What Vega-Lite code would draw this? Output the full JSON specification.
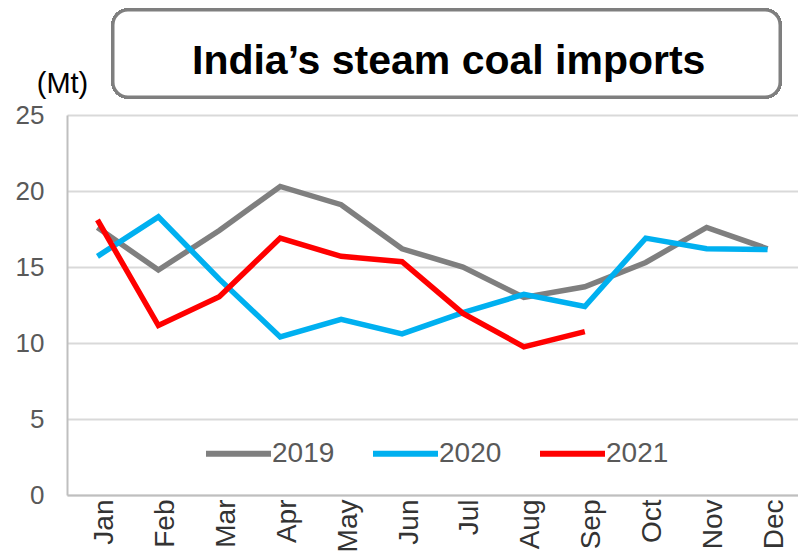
{
  "$schema": "https://vega.github.io/schema/vega-lite/v6.json",
  "width": 731,
  "height": 380,
  "autosize": "none",
  "padding": {"left": 67, "top": 115, "right": 0, "bottom": 59},
  "background": "white",
  "title": {
    "text": "India’s steam coal imports",
    "font": "Liberation Sans",
    "fontSize": 41,
    "fontWeight": "bold",
    "color": "#000000",
    "anchor": "start",
    "frame": "group",
    "baseline": "alphabetic",
    "dx": 125,
    "offset": -106
  },
  "config": {
    "view": {"stroke": null},
    "font": "Liberation Sans",
    "legend": {
      "orient": "none",
      "legendX": 136,
      "legendY": 303,
      "direction": "horizontal",
      "title": null,
      "symbolType": "stroke",
      "symbolSize": 4225,
      "symbolStrokeWidth": 6,
      "labelFont": "Liberation Sans",
      "labelFontSize": 28,
      "labelColor": "#595959",
      "labelOffset": -2,
      "columnPadding": 26,
      "padding": 0
    }
  },
  "data": {
    "values": [
      {"month": "Jan", "year": "2019", "mt": 17.6},
      {"month": "Feb", "year": "2019", "mt": 14.8},
      {"month": "Mar", "year": "2019", "mt": 17.4},
      {"month": "Apr", "year": "2019", "mt": 20.3},
      {"month": "May", "year": "2019", "mt": 19.1},
      {"month": "Jun", "year": "2019", "mt": 16.2},
      {"month": "Jul", "year": "2019", "mt": 15.0},
      {"month": "Aug", "year": "2019", "mt": 13.0},
      {"month": "Sep", "year": "2019", "mt": 13.7},
      {"month": "Oct", "year": "2019", "mt": 15.3},
      {"month": "Nov", "year": "2019", "mt": 17.6},
      {"month": "Dec", "year": "2019", "mt": 16.2},
      {"month": "Jan", "year": "2020", "mt": 15.7},
      {"month": "Feb", "year": "2020", "mt": 18.3},
      {"month": "Mar", "year": "2020", "mt": 14.2},
      {"month": "Apr", "year": "2020", "mt": 10.4},
      {"month": "May", "year": "2020", "mt": 11.55},
      {"month": "Jun", "year": "2020", "mt": 10.6},
      {"month": "Jul", "year": "2020", "mt": 12.0},
      {"month": "Aug", "year": "2020", "mt": 13.2},
      {"month": "Sep", "year": "2020", "mt": 12.4},
      {"month": "Oct", "year": "2020", "mt": 16.9},
      {"month": "Nov", "year": "2020", "mt": 16.2},
      {"month": "Dec", "year": "2020", "mt": 16.15},
      {"month": "Jan", "year": "2021", "mt": 18.1},
      {"month": "Feb", "year": "2021", "mt": 11.15},
      {"month": "Mar", "year": "2021", "mt": 13.05},
      {"month": "Apr", "year": "2021", "mt": 16.9},
      {"month": "May", "year": "2021", "mt": 15.7},
      {"month": "Jun", "year": "2021", "mt": 15.35},
      {"month": "Jul", "year": "2021", "mt": 11.95},
      {"month": "Aug", "year": "2021", "mt": 9.75},
      {"month": "Sep", "year": "2021", "mt": 10.75}
    ]
  },
  "layer": [
    {
      "mark": {"type": "rect", "fill": "white", "stroke": "#7f7f7f", "strokeWidth": 3, "cornerRadius": 15},
      "encoding": {
        "x": {"value": 46},
        "x2": {"value": 713},
        "y": {"value": -105},
        "y2": {"value": -18}
      }
    },
    {
      "mark": {"type": "line", "strokeWidth": 5.5, "strokeJoin": "miter"},
      "encoding": {
        "x": {
          "field": "month",
          "type": "ordinal",
          "sort": ["Jan","Feb","Mar","Apr","May","Jun","Jul","Aug","Sep","Oct","Nov","Dec"],
          "axis": {
            "title": null,
            "labelAngle": -90,
            "labelFontSize": 28,
            "labelColor": "#333333",
            "labelPadding": 4,
            "labelOffset": 7,
            "ticks": false,
            "domainColor": "#bfbfbf",
            "domainWidth": 2,
            "grid": false
          }
        },
        "y": {
          "field": "mt",
          "type": "quantitative",
          "scale": {"domain": [0, 25]},
          "axis": {
            "title": "(Mt)",
            "titleAngle": 0,
            "titleFontSize": 29,
            "titleFontWeight": "normal",
            "titleColor": "#000000",
            "titleAlign": "center",
            "titleBaseline": "alphabetic",
            "titleX": -5,
            "titleY": -23,
            "values": [0, 5, 10, 15, 20, 25],
            "labelFontSize": 26,
            "labelColor": "#595959",
            "labelPadding": 23,
            "ticks": false,
            "domainColor": "#bfbfbf",
            "domainWidth": 2,
            "gridColor": "#d9d9d9",
            "gridWidth": 2
          }
        },
        "color": {
          "field": "year",
          "type": "nominal",
          "scale": {"domain": ["2019", "2020", "2021"], "range": ["#7f7f7f", "#00b0f0", "#ff0000"]}
        }
      }
    }
  ]
}
